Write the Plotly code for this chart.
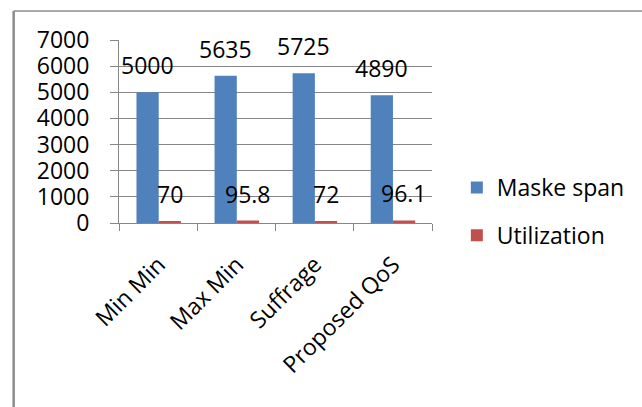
import plotly.graph_objects as go

# Chart data
categories = ["Min Min", "Max Min", "Suffrage", "Proposed QoS"]
makespan = [5000, 5635, 5725, 4890]
utilization = [70, 95.8, 72, 96.1]
makespan_labels = ["5000", "5635", "5725", "4890"]
utilization_labels = ["70", "95.8", "72", "96.1"]

W, H = 642, 407
ML, MR, MT, MB = 119, 208, 40, 184
FONT = "Open Sans"
FS = 23
BLUE = "#4F81BD"
RED = "#C0504D"
GRID = "#868686"


def px_x(p):
    return (p - ML) / (W - ML - MR)


def px_y(p):
    return 1 - (p - MT) / (H - MT - MB)


fig = go.Figure()
fig.add_trace(go.Bar(x=categories, y=makespan, name="Maske span",
                     marker=dict(color=BLUE, line=dict(width=0)),
                     legendgroup="a"))
fig.add_trace(go.Bar(x=categories, y=utilization, name="Utilization",
                     marker=dict(color=RED, line=dict(width=0)),
                     legendgroup="b"))

# Data labels above each bar
group_px = (W - ML - MR) / len(categories)
bargap = 0.43
bar_px = group_px * (1 - bargap) / 2
annotations = []
for series, labels, sign in ((makespan, makespan_labels, -1),
                             (utilization, utilization_labels, 1)):
    for cat, val, lab in zip(categories, series, labels):
        annotations.append(dict(
            x=cat, y=val, xref="x", yref="y", text=lab, showarrow=False,
            xanchor="center", yanchor="bottom",
            xshift=sign * bar_px / 2, yshift=9,
            font=dict(family=FONT, size=FS, color="black")))

# Chart area border (top and left edges)
shapes = [
    dict(type="line", xref="paper", yref="paper",
         x0=px_x(13), x1=px_x(W + 5), y0=px_y(11), y1=px_y(11),
         line=dict(color="#8C8C8C", width=1.5)),
    dict(type="line", xref="paper", yref="paper",
         x0=px_x(13), x1=px_x(13), y0=px_y(11), y1=px_y(H + 5),
         line=dict(color="#8C8C8C", width=2.5)),
]

fig.update_layout(
    width=W, height=H,
    margin=dict(l=ML, r=MR, t=MT, b=MB, pad=0),
    paper_bgcolor="white", plot_bgcolor="white",
    barmode="group", bargap=bargap, bargroupgap=0,
    font=dict(family=FONT, size=FS, color="black"),
    showlegend=True,
    legend=dict(x=px_x(459), y=px_y(166), xanchor="left", yanchor="top",
                font=dict(family=FONT, size=FS, color="black"),
                tracegroupgap=15, bgcolor="rgba(0,0,0,0)"),
    annotations=annotations,
    shapes=shapes,
    xaxis=dict(type="category", tickson="boundaries", ticks="outside",
               ticklen=7, tickcolor=GRID, showline=True, linecolor=GRID,
               linewidth=1, showgrid=False, tickangle=-45,
               ticklabelstandoff=18,
               tickfont=dict(family=FONT, size=FS, color="black")),
    yaxis=dict(range=[0, 7000], dtick=1000, ticks="outside", ticklen=8,
               tickcolor=GRID, showline=True, linecolor=GRID, linewidth=1,
               showgrid=True, gridcolor=GRID, gridwidth=1, zeroline=False,
               ticklabelstandoff=16,
               tickfont=dict(family=FONT, size=FS, color="black")),
)

fig.write_html("out.html")
